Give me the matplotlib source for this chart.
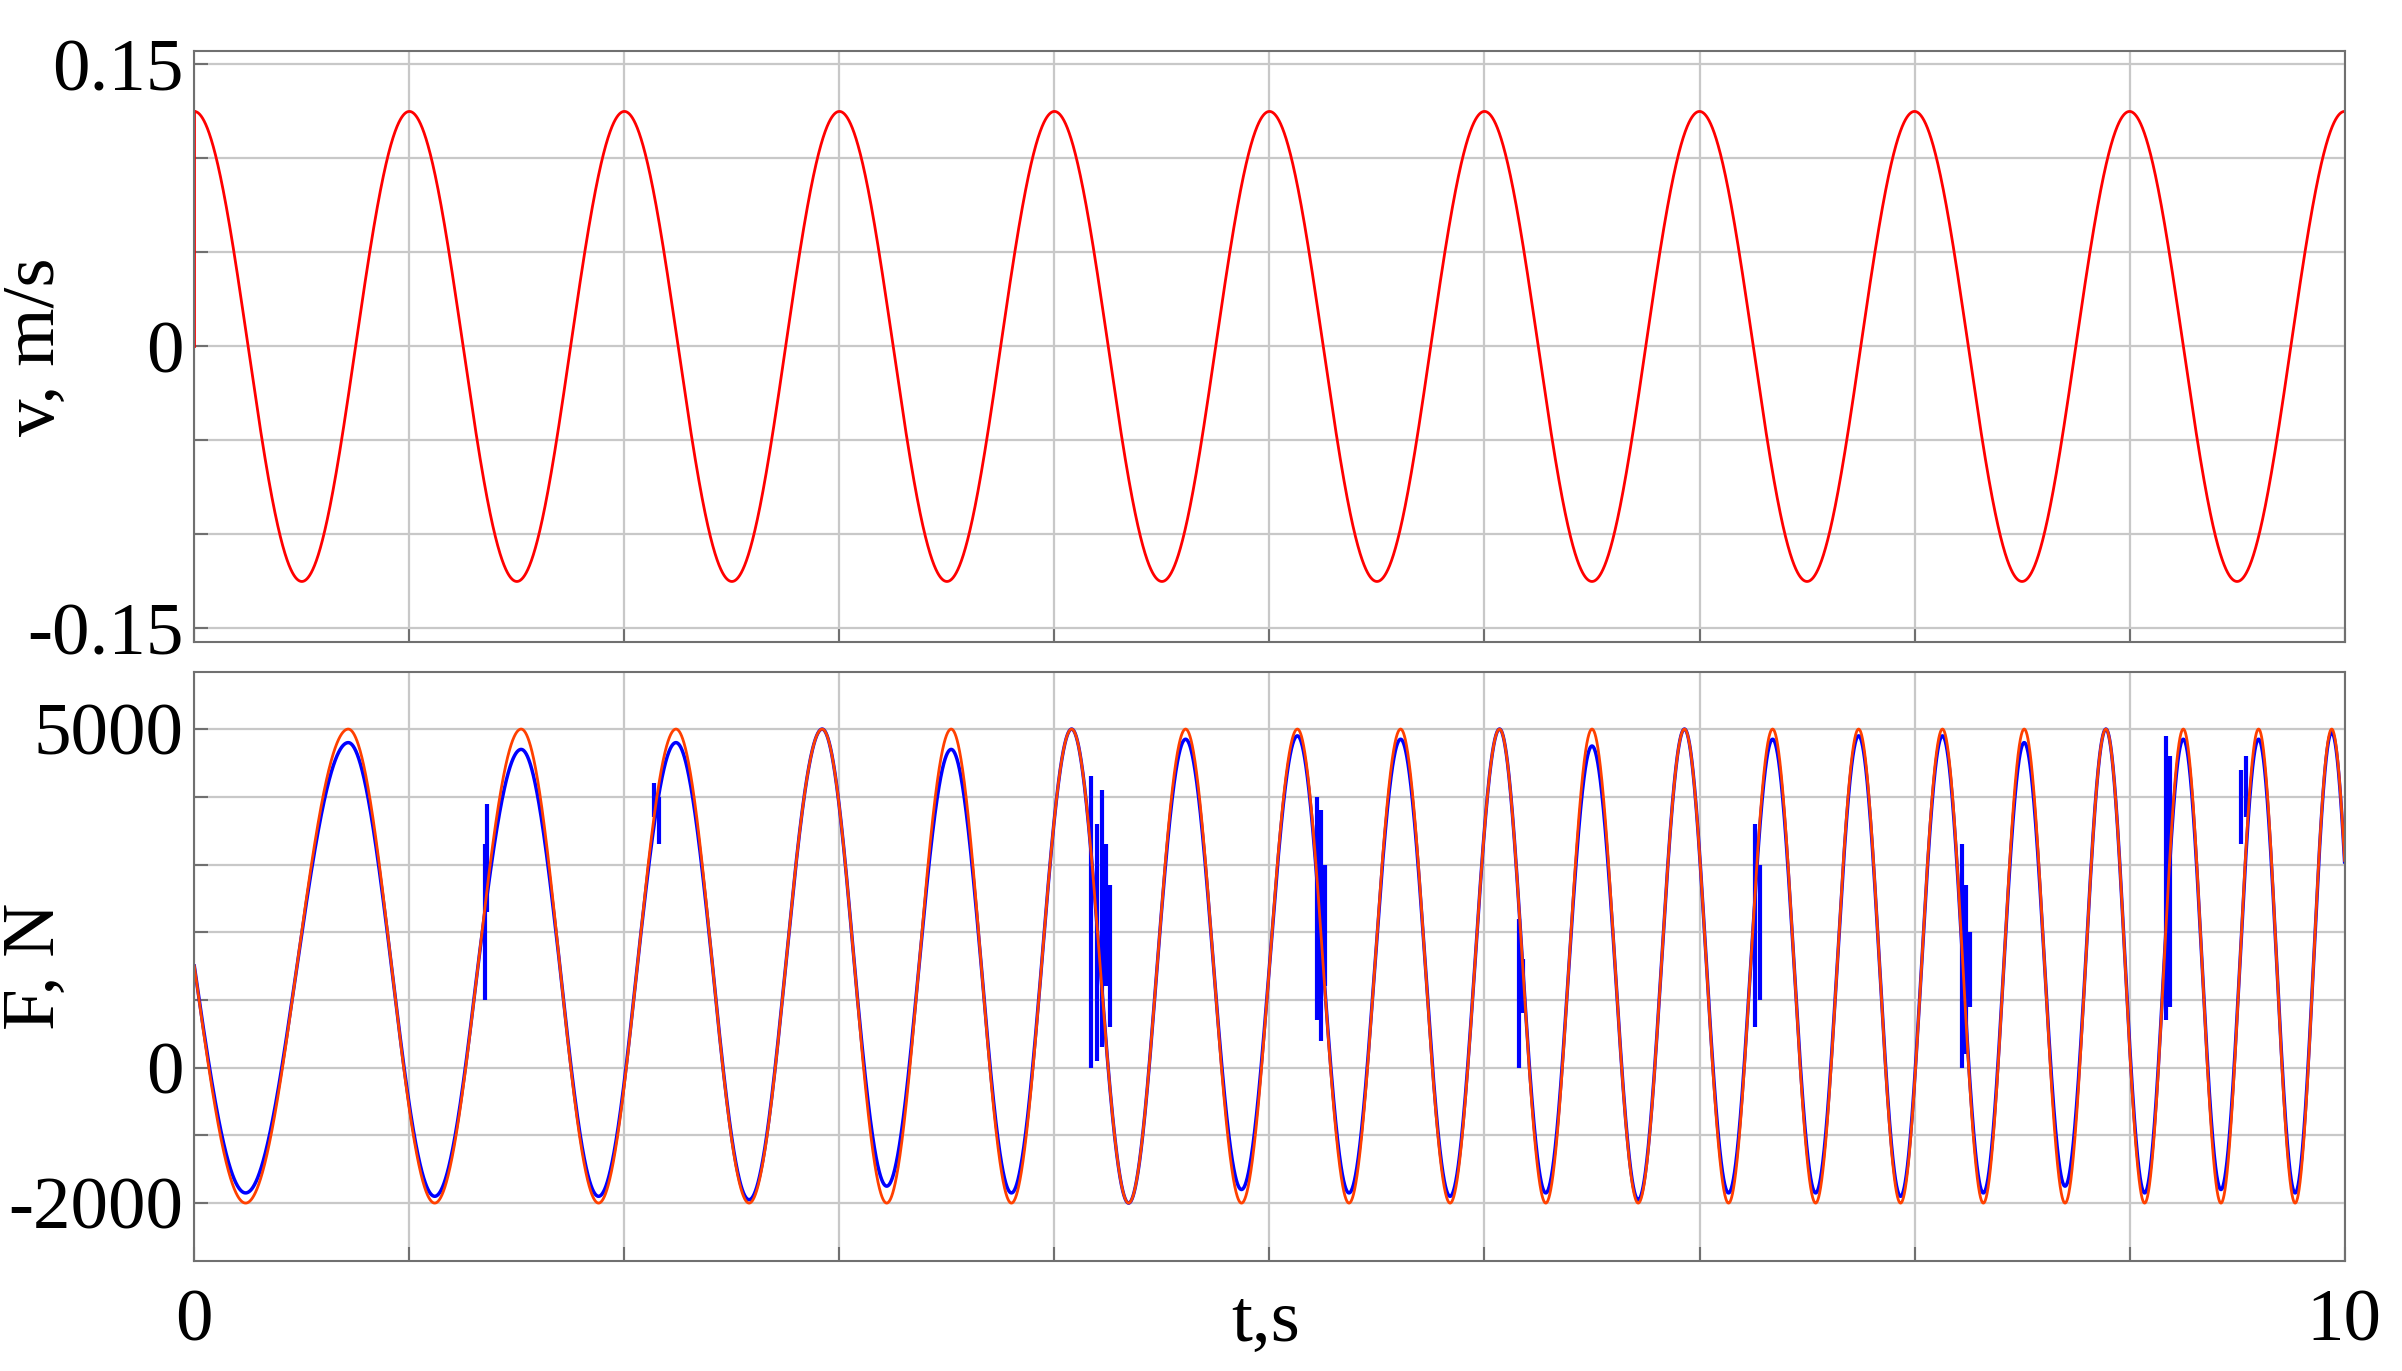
import numpy as np
import matplotlib
matplotlib.use("Agg")
import matplotlib.pyplot as plt

plt.rcParams['font.family'] = ['Liberation Serif', 'DejaVu Serif']

# ---- data ----
v_amplitude = 0.125          # m/s
v_period = 1.0               # s
# times of force maxima (s)
f_peak_times = [0.716, 1.52, 2.24, 2.92, 3.52, 4.08, 4.61, 5.13, 5.61, 6.07,
                6.50, 6.93, 7.34, 7.74, 8.13, 8.51, 8.89, 9.25, 9.60, 9.94]
f_max = 5000.0
f_min = -2000.0
# blue (measured) force per cycle: trough and peak values
blue_troughs = [-1850, -1900, -1900, -1950, -1750, -1850, -2000, -1800, -1850, -1900,
                -1850, -1950, -1850, -1850, -1900, -1850, -1750, -1850, -1800, -1850, -1850]
blue_peaks = [4800, 4700, 4800, 5000, 4700, 5000, 4850, 4900, 4850, 5000,
              4750, 5000, 4850, 4900, 4900, 4800, 5000, 4850, 4850, 4950, 4950]
# spikes in the blue trace: (time s, low N, high N)
spike_t = [1.35, 1.36, 2.14, 2.16, 4.17, 4.20, 4.22, 4.24, 4.26, 5.22, 5.24, 5.26,
           6.16, 6.18, 7.26, 7.28, 8.22, 8.24, 8.26, 9.17, 9.19, 9.52, 9.54]
spike_lo = [1000, 2300, 3700, 3300, 0, 100, 300, 1200, 600, 700, 400, 1200,
            0, 800, 600, 1000, 0, 200, 900, 700, 900, 3300, 3700]
spike_hi = [3300, 3900, 4200, 4000, 4300, 3600, 4100, 3300, 2700, 4000, 3800, 3000,
            2200, 1600, 3600, 3000, 3300, 2700, 2000, 4900, 4600, 4400, 4600]

# ---- build curves ----
t = np.linspace(0, 10, 20001)
v = v_amplitude * np.cos(2 * np.pi * t / v_period)

mid = (f_max + f_min) / 2
amp = (f_max - f_min) / 2
n = len(f_peak_times)
knot_t = np.concatenate([[0.0], f_peak_times, [10.0]])
last_p = 2 * np.pi * n + 2 * np.pi * (10.0 - f_peak_times[-1]) / (f_peak_times[-1] - f_peak_times[-2])
knot_p = np.concatenate([[np.pi / 2], 2 * np.pi * np.arange(1, n + 1), [last_p]])
phase = np.interp(t, knot_t, knot_p)
c = np.cos(phase)
f_ref = mid + amp * c

cyc = np.clip(np.floor((phase - np.pi / 2) / (2 * np.pi)).astype(int), 0, len(blue_troughs) - 1)
tr = np.array(blue_troughs)[cyc]
pk = np.array(blue_peaks)[cyc]
f_blue = np.where(c < 0, mid + (mid - tr) * c, mid + (pk - mid) * c)

fig = plt.figure(figsize=(24.02, 13.71), dpi=100)
ax1 = fig.add_axes([0.0809, 0.532, 0.8952, 0.4306])
ax2 = fig.add_axes([0.0809, 0.0805, 0.8952, 0.4297])

grid_kw = dict(color='#c8c8c8', linewidth=1.6)
for ax in (ax1, ax2):
    ax.set_xlim(0, 10)
    ax.set_xticks(np.arange(0, 11, 1))
    ax.grid(True, **grid_kw)
    ax.tick_params(direction='in', length=10, width=1.5, color='#707070',
                   labelsize=54, pad=8)
    ax.tick_params(axis='x', labelbottom=False)
    for s in ax.spines.values():
        s.set_color('#707070')
        s.set_linewidth(1.5)

ax1.plot(t, v, color='#ff0000', linewidth=2)
ax1.plot([0, 0], [0, v_amplitude], color='#ff0000', linewidth=2)
ax1.set_ylim(-0.157, 0.157)
yt = np.round(np.arange(-0.15, 0.151, 0.05), 2)
ax1.set_yticks(yt)
ax1.set_yticklabels(['-0.15', '', '', '0', '', '', '0.15'])
ax1.set_ylabel('v, m/s', fontsize=54)
ax1.yaxis.set_label_coords(-0.058, 0.5)

ax2.plot(t, f_blue, color='#0000ff', linewidth=2.5)
ax2.vlines(spike_t, spike_lo, spike_hi, color='#0000ff', linewidth=3)
ax2.plot(t, f_ref, color='#ff4000', linewidth=2)
ax2.set_ylim(-2850, 5850)
ax2.set_yticks(np.arange(-2000, 5001, 1000))
ax2.set_yticklabels(['-2000', '', '0', '', '', '', '', '5000'])
ax2.set_ylabel('F, N', fontsize=54)
ax2.yaxis.set_label_coords(-0.058, 0.5)

fig.text(0.0809, 0.035, '0', fontsize=54, ha='center', va='center')
fig.text(0.976, 0.035, '10', fontsize=54, ha='center', va='center')
fig.text(0.527, 0.035, 't,s', fontsize=54, ha='center', va='center')

fig.savefig('out.png', dpi=100)
